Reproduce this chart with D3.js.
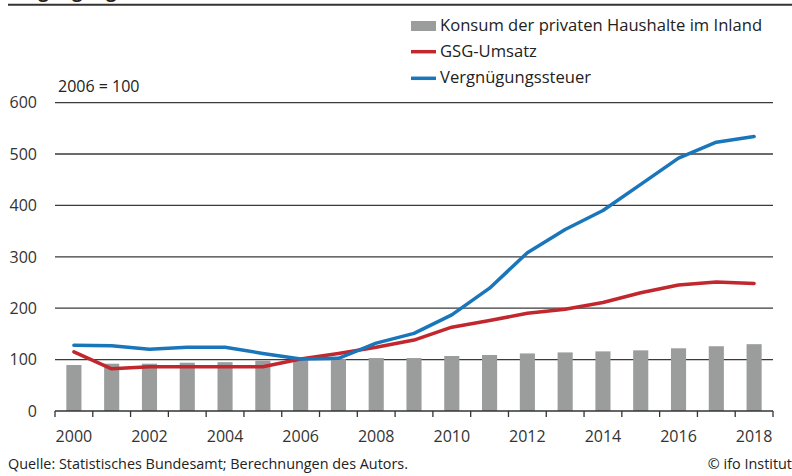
<!DOCTYPE html>
<html><head><meta charset="utf-8">
<script src="https://cdn.jsdelivr.net/npm/d3@7"></script>
<style>
html,body{margin:0;padding:0;background:#fff;}
svg text{font-family:"Open Sans",sans-serif;fill:#222;}
</style></head>
<body><svg id="c" width="792" height="476"></svg>
<script>
const years = d3.range(2000, 2019);
const konsum = [89.5, 92, 92, 94, 95, 98, 100, 101, 103, 103, 107, 109, 112, 114, 116, 118, 122, 126, 130];
const gsg = [115, 82, 86, 86, 86, 86, 101, 112, 124, 138, 163, 176, 190, 198, 211, 230, 245, 251, 248];
const vergn = [128, 127, 120, 124, 124, 112, 101, 102.5, 132, 151, 187, 239, 308, 353, 390, 441, 492, 523, 534];
const yTicks = [0, 100, 200, 300, 400, 500, 600];
const xLabelYears = [2000, 2002, 2004, 2006, 2008, 2010, 2012, 2014, 2016, 2018];
const legendLabels = ["Konsum der privaten Haushalte im Inland", "GSG-Umsatz", "Vergnügungssteuer"];
const colors = {bar: "#9b9d9d", red: "#c1272d", blue: "#1a76bb"};

const svg = d3.select("#c");
const x = d3.scaleBand().domain(years).range([55, 773]).paddingInner(0.6).paddingOuter(0.3);
const y = d3.scaleLinear().domain([0, 600]).range([411, 102.6]);

// title (clipped at top, as in the reference) and top rule
svg.append("text").attr("x", 8).attr("y", -2.5).style("font-size", "18px").style("font-weight", "bold").text("Vergnügungssteuer");
svg.append("line").attr("x1", 8).attr("x2", 792).attr("y1", 4.7).attr("y2", 4.7).attr("stroke", "#333").attr("stroke-width", 2);

// gridlines
svg.append("g").selectAll("line").data(yTicks.filter(d => d > 0)).join("line")
  .attr("x1", 55).attr("x2", 773).attr("y1", d => y(d)).attr("y2", d => y(d))
  .attr("stroke", "#3a3a3a").attr("stroke-width", 1.3);

// y labels
svg.append("g").selectAll("text").data(yTicks).join("text")
  .attr("x", 37).attr("y", d => y(d)).attr("dy", "0.36em").attr("text-anchor", "end")
  .style("font-size", "16px").style("fill", "#333").text(d => d);

// bars
svg.append("g").selectAll("rect").data(years).join("rect")
  .attr("x", d => x(d)).attr("width", x.bandwidth())
  .attr("y", (d, i) => y(konsum[i])).attr("height", (d, i) => y(0) - y(konsum[i]))
  .attr("fill", colors.bar);

// x axis line and ticks
const step = x.step();
const x0 = x.range()[0];
svg.append("line").attr("x1", 55).attr("x2", 773).attr("y1", y(0)).attr("y2", y(0)).attr("stroke", "#333").attr("stroke-width", 1.6);
svg.append("g").selectAll("line").data(d3.range(years.length + 1)).join("line")
  .attr("x1", i => x0 + i * step).attr("x2", i => x0 + i * step)
  .attr("y1", y(0)).attr("y2", y(0) + 6).attr("stroke", "#333").attr("stroke-width", 1.3);

svg.append("g").selectAll("text").data(xLabelYears).join("text")
  .attr("x", d => x(d) + x.bandwidth() / 2).attr("y", 442).attr("text-anchor", "middle")
  .style("font-size", "16px").style("fill", "#333").text(d => d);

// lines
const line = d3.line().x((d, i) => x(years[i]) + x.bandwidth() / 2).y(d => y(d));
svg.append("path").datum(gsg).attr("d", line).attr("fill", "none").attr("stroke", colors.red).attr("stroke-width", 3.5).attr("stroke-linejoin", "round").attr("stroke-linecap", "round");
svg.append("path").datum(vergn).attr("d", line).attr("fill", "none").attr("stroke", colors.blue).attr("stroke-width", 3.5).attr("stroke-linejoin", "round").attr("stroke-linecap", "round");

// legend
const lg = svg.append("g");
lg.append("rect").attr("x", 411).attr("y", 21).attr("width", 25).attr("height", 10).attr("fill", colors.bar);
lg.append("line").attr("x1", 411).attr("x2", 436).attr("y1", 51.7).attr("y2", 51.7).attr("stroke", colors.red).attr("stroke-width", 3.5);
lg.append("line").attr("x1", 411).attr("x2", 436).attr("y1", 78.3).attr("y2", 78.3).attr("stroke", colors.blue).attr("stroke-width", 3.5);
const legY = [31, 57, 83];
lg.selectAll("text").data(legendLabels).join("text")
  .attr("x", 440).attr("y", (d, i) => legY[i]).style("font-size", "16.6px").text(d => d);

// annotation and footer
svg.append("text").attr("x", 58).attr("y", 92).style("font-size", "16px").text("2006 = 100");
svg.append("text").attr("x", 8).attr("y", 469).style("font-size", "14.4px").text("Quelle: Statistisches Bundesamt; Berechnungen des Autors.");
svg.append("text").attr("x", 792).attr("y", 469).attr("text-anchor", "end").style("font-size", "14.4px").text("© ifo Institut");
</script></body></html>
